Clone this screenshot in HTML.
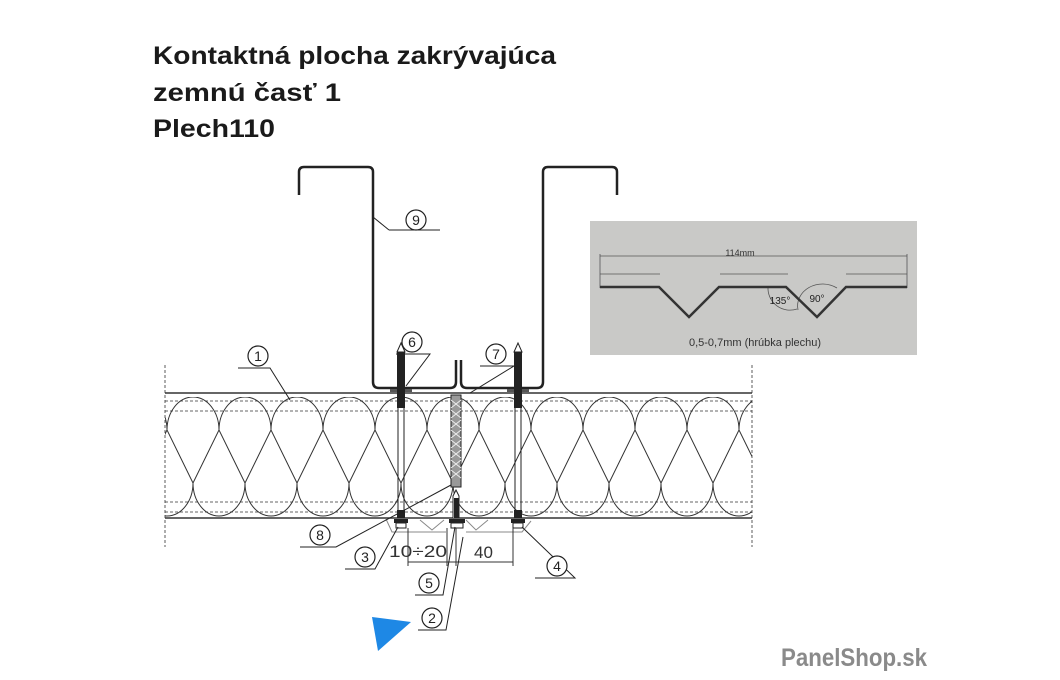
<!DOCTYPE html>
<html><head><meta charset="utf-8"><style>
html,body{margin:0;padding:0;background:#fff;}
svg{display:block}
</style></head><body>
<svg width="1060" height="680" viewBox="0 0 1060 680" xmlns="http://www.w3.org/2000/svg" font-family="Liberation Sans, sans-serif">
<defs>
<pattern id="wool" patternUnits="userSpaceOnUse" x="167" y="393" width="52" height="125">
<g fill="none" stroke="#333" stroke-width="1">
<path d="M0,37 A26,33 0 0 1 52,37"/>
<path d="M-26,90 A26,33 0 0 0 26,90 M26,90 A26,33 0 0 0 78,90"/>
<path d="M0,37 L26,90 M52,37 L26,90 M0,37 L-26,90 M52,37 L78,90"/>
</g>
</pattern>
</defs>
<g fill="#1a1a1a" font-size="25" font-weight="bold">
<text x="153" y="64" textLength="403" lengthAdjust="spacingAndGlyphs">Kontaktná plocha zakrývajúca</text>
<text x="153" y="101" textLength="188" lengthAdjust="spacingAndGlyphs">zemnú časť 1</text>
<text x="153" y="137" textLength="122" lengthAdjust="spacingAndGlyphs">Plech110</text>
</g>
<!-- panel -->
<rect x="165" y="397" width="587" height="121" fill="url(#wool)"/>
<g stroke="#333" fill="none">
<line x1="165" y1="393" x2="752" y2="393" stroke-width="1.5"/>
<line x1="165" y1="518" x2="752" y2="518" stroke-width="1.5"/>
<g stroke-dasharray="3,2" stroke-width="0.8">
<line x1="165" y1="401" x2="752" y2="401"/><line x1="165" y1="411" x2="752" y2="411"/>
<line x1="165" y1="502" x2="752" y2="502"/><line x1="165" y1="512" x2="752" y2="512"/>
<line x1="165" y1="365" x2="165" y2="547"/><line x1="752" y1="365" x2="752" y2="547"/>
</g>
</g>
<!-- brackets -->
<g stroke="#222" stroke-width="2.5" fill="none">
<path d="M299,195 V172 Q299,167 304,167 H368 Q373,167 373,172 V382 Q373,388 379,388 H450 Q456,388 456,382 V360"/>
<path d="M461,360 V382 Q461,388 467,388 H537 Q543,388 543,382 V172 Q543,167 548,167 H612 Q617,167 617,172 V195"/>
</g>
<!-- washers on top -->
<rect x="390" y="389" width="22" height="3" fill="#555"/>
<rect x="507" y="389" width="22" height="3" fill="#555"/>
<!-- screws -->
<g stroke="#222" fill="none">
<line x1="398" y1="407" x2="398" y2="510"/><line x1="404" y1="407" x2="404" y2="510"/>
<line x1="515" y1="407" x2="515" y2="510"/><line x1="521" y1="407" x2="521" y2="510"/>
</g>
<rect x="397" y="352" width="8" height="56" fill="#222"/>
<rect x="514" y="352" width="8" height="56" fill="#222"/>
<path d="M397,352 L401,343 L405,352Z" fill="#fff" stroke="#222"/>
<path d="M514,352 L518,343 L522,352Z" fill="#fff" stroke="#222"/>
<rect x="397" y="510" width="8" height="8" fill="#222"/><rect x="514" y="510" width="8" height="8" fill="#222"/>
<rect x="394" y="519" width="14" height="4" fill="#222"/><rect x="511" y="519" width="14" height="4" fill="#222"/>
<rect x="396" y="523" width="10" height="5" fill="#fff" stroke="#222"/><rect x="513" y="523" width="10" height="5" fill="#fff" stroke="#222"/>
<!-- sealant strip -->
<rect x="451" y="395" width="10" height="92" fill="#999" stroke="#222"/>
<path d="M451,400 l10,8 M451,410 l10,8 M451,420 l10,8 M451,430 l10,8 M451,440 l10,8 M451,450 l10,8 M451,460 l10,8 M451,470 l10,8 M461,400 l-10,8 M461,410 l-10,8 M461,420 l-10,8 M461,430 l-10,8 M461,440 l-10,8 M461,450 l-10,8 M461,460 l-10,8 M461,470 l-10,8" stroke="#eee" stroke-width="1"/>
<!-- screw 5 -->
<path d="M453,518 V496 L456,490 L459,496 V518" fill="#fff" stroke="#222"/>
<rect x="454" y="498" width="5" height="20" fill="#222"/>
<rect x="449" y="519" width="16" height="4" fill="#222"/>
<rect x="451" y="523" width="12" height="5" fill="#fff" stroke="#222"/>
<!-- small brackets under -->
<g stroke="#888" fill="none" stroke-width="1">
<path d="M386,519 L392,532 H446 M420,520 L432,530 L444,520"/>
<path d="M466,520 L476,530 L488,520 M466,532 H522 L531,521"/>
</g>
<!-- dimensions -->
<g stroke="#333" stroke-width="1" fill="none">
<line x1="408" y1="562" x2="513" y2="562"/>
<line x1="408" y1="528" x2="408" y2="566"/>
<line x1="447" y1="528" x2="447" y2="566"/>
<line x1="456" y1="528" x2="456" y2="566"/>
<line x1="513" y1="528" x2="513" y2="566"/>
</g>
<text x="389" y="557" font-size="17" fill="#333" textLength="58" lengthAdjust="spacingAndGlyphs">10÷20</text>
<text x="474" y="558" font-size="17" fill="#333">40</text>
<!-- leaders -->
<g stroke="#222" stroke-width="1" fill="none">
<path d="M238,368 H270 L290,400"/>
<path d="M396,354 H430 L406,386"/>
<path d="M480,366 H514 L470,393"/>
<path d="M389,230 H440 M389,230 L373,217"/>
<path d="M300,547 H336 L451,485"/>
<path d="M345,569 H375 L398,527"/>
<path d="M415,595 H443 L455,527"/>
<path d="M418,630 H446 L463,537"/>
<path d="M535,578 H575 L522,527"/>
</g>
<g fill="#fff" stroke="#222" stroke-width="1.2" font-size="14" text-anchor="middle">
<circle cx="258" cy="356" r="10"/><circle cx="412" cy="342" r="10"/><circle cx="496" cy="354" r="10"/>
<circle cx="416" cy="220" r="10"/><circle cx="320" cy="535" r="10"/><circle cx="365" cy="557" r="10"/>
<circle cx="429" cy="583" r="10"/><circle cx="432" cy="618" r="10"/><circle cx="557" cy="566" r="10"/>
</g>
<g fill="#222" font-size="14" text-anchor="middle">
<text x="258" y="361">1</text><text x="412" y="347">6</text><text x="496" y="359">7</text>
<text x="416" y="225">9</text><text x="320" y="540">8</text><text x="365" y="562">3</text>
<text x="429" y="588">5</text><text x="432" y="623">2</text><text x="557" y="571">4</text>
</g>
<!-- blue arrow -->
<path d="M372,617 L411,622 L378,651 Z" fill="#1e88e5"/>
<!-- inset -->
<rect x="590" y="221" width="327" height="134" fill="#c9c9c7"/>
<g stroke="#555" stroke-width="0.8" fill="none">
<line x1="600" y1="256" x2="907" y2="256"/>
<line x1="600" y1="274" x2="660" y2="274"/><line x1="720" y1="274" x2="788" y2="274"/><line x1="846" y1="274" x2="907" y2="274"/>
<line x1="600" y1="254" x2="600" y2="288"/><line x1="907" y1="254" x2="907" y2="288"/>
<path d="M768,287 A22,22 0 0 0 797,309"/><path d="M798,310 A25,22 0 0 1 837,288"/>
</g>
<path d="M600,287 H659 L689,317 L719,287 H786 L817,317 L846,287 H907" stroke="#333" stroke-width="2.5" fill="none"/>
<text x="740" y="256" font-size="9" fill="#333" text-anchor="middle">114mm</text>
<text x="780" y="304" font-size="10" fill="#222" text-anchor="middle">135°</text>
<text x="817" y="302" font-size="10" fill="#222" text-anchor="middle">90°</text>
<text x="755" y="346" font-size="11" fill="#333" text-anchor="middle">0,5-0,7mm (hrúbka plechu)</text>
<text x="781" y="666" font-size="25" font-weight="bold" fill="#8a8a8a" textLength="146" lengthAdjust="spacingAndGlyphs">PanelShop.sk</text>
</svg>
</body></html>
